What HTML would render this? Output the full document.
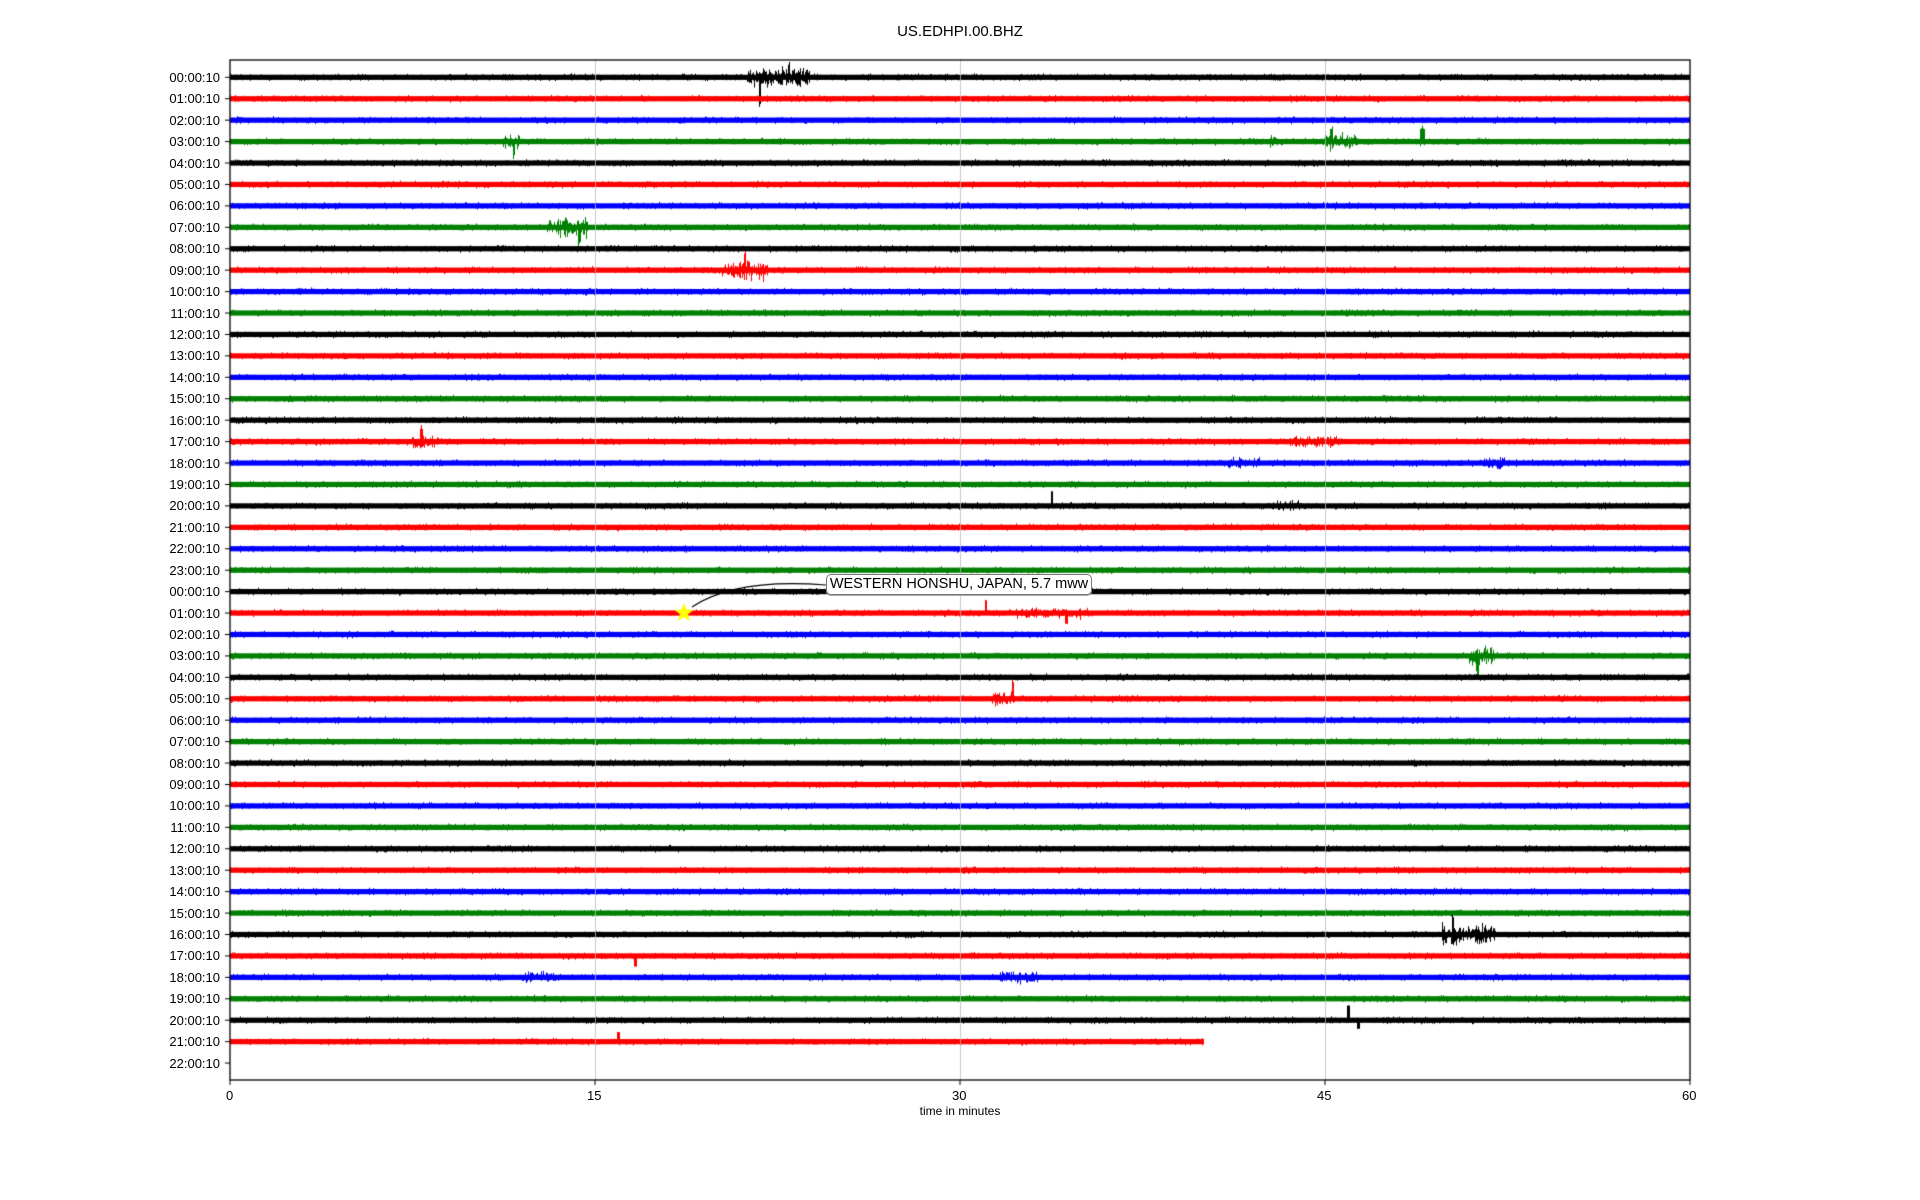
<!DOCTYPE html>
<html><head><meta charset="utf-8"><style>
body{margin:0;background:#fff;width:1920px;height:1200px;position:relative;overflow:hidden;font-family:"Liberation Sans",sans-serif;color:#000}
.t{position:absolute;font-size:13px;line-height:13px;white-space:nowrap}
.yl{right:1700px;text-align:right}
canvas{position:absolute;left:0;top:0}
</style></head><body>
<canvas id="c" width="1920" height="1200"></canvas>
<div class="t" style="left:0;width:1920px;text-align:center;top:24px;font-size:15px;line-height:15px">US.EDHPI.00.BHZ</div>
<div id="labels"></div>
<div class="t" style="left:226px;top:1089px">0</div>
<div class="t" style="left:587px;top:1089px">15</div>
<div class="t" style="left:952px;top:1089px">30</div>
<div class="t" style="left:1317px;top:1089px">45</div>
<div class="t" style="left:1682px;top:1089px">60</div>
<div class="t" style="left:0;width:1920px;text-align:center;top:1105px;font-size:12px;line-height:12px">time in minutes</div>
<div class="t" style="left:826px;top:574px;width:264px;height:19px;border:1.3px solid #777;border-radius:5px;background:#fff;font-size:14.5px;line-height:19px;text-align:center;box-shadow:0 1px 0 #aaa">WESTERN HONSHU, JAPAN, 5.7 mww</div>
<script>
var L=230,R=1690,T=60,B=1080,y0=77.3,dy=21.43;
var hrs=[];for(var i=0;i<24;i++)hrs.push(i);for(var i=0;i<23;i++)hrs.push(i);
var h='';
hrs.forEach(function(v,i){var y=y0+dy*i;h+='<div class="t yl" style="top:'+(y-6.5)+'px">'+(v<10?'0':'')+v+':00:10</div>';});
document.getElementById('labels').innerHTML=h;
var c=document.getElementById('c').getContext('2d');
var s=12345;function r(){s=(s*16807)%2147483647;return s/2147483647;}
function g(){return (r()+r()+r()-1.5)*1.2;}
var cols=['#000','#f00','#00f','#008000'];
var ev=[[0,21.2,23.8,4,0],[0,21.7,21.8,0,24],[0,22.9,23,0,-10],[3,11.2,11.9,3,0],[3,11.6,11.7,0,10],[3,42.7,43,2,0],[3,45,46.3,3,0],[3,45.2,45.3,0,-10],[3,48.9,49.1,2,-10],[7,13,14.7,4,0],[7,14.3,14.4,0,12],[9,20.2,22.1,4,0],[9,21.1,21.2,0,-14],[17,7.4,8.7,3,0],[17,7.8,7.9,0,-10],[17,43.5,45.8,1.5,0],[18,41,42.3,1.5,0],[18,51.5,52.5,1.5,0],[20,33.7,33.8,0,-12],[20,43,44,1.5,0],[25,31,31.1,0,-10],[25,32.3,35.3,1.5,0],[25,34.3,34.4,0,8],[27,50.9,52,4,0],[27,51.2,51.3,0,12],[29,31.3,32.3,3,0],[29,32.1,32.2,0,-14],[40,49.8,52,4,0],[40,50.2,50.3,0,-12],[41,16.6,16.7,0,8],[44,45.9,46,0,-12],[44,46.3,46.4,0,6],[45,15.9,16,0,-7],[42,31.5,33.2,2,0],[42,12,13.3,1.5,0]];
var ppm=(R-L)/60;
for(var i=0;i<46;i++){
 var y=y0+dy*i;c.fillStyle=cols[i%4];
 var xe=(i==45)?L+40*ppm:R;
 var my=[];ev.forEach(function(e){if(e[0]==i)my.push(e);});
 for(var x=L;x<xe;x++){
  var m=(x-L)/ppm,a=2.4,sp=0;
  my.forEach(function(e){if(m>=e[1]&&m<=e[2]){a+=e[3]*(0.5+r());sp+=e[4];}});
  var mn=-2.6,mx=2.6;
  for(var k=0;k<5;k++){var v=g()*a;if(v<mn)mn=v;if(v>mx)mx=v;}
  if(sp<0)mn+=sp; if(sp>0)mx+=sp;
  c.fillRect(x,y+mn,1,mx-mn);
 }
}
c.strokeStyle='#bbb';c.lineWidth=0.8;
[15,30,45].forEach(function(m){var x=Math.round(L+m*ppm)+0.5;c.beginPath();c.moveTo(x,T);c.lineTo(x,B);c.stroke();});
c.strokeStyle='#000';c.lineWidth=1.3;c.strokeRect(L,T,R-L,B-T);
c.lineWidth=1;
for(var i=0;i<47;i++){var y=y0+dy*i;c.beginPath();c.moveTo(L-5,y);c.lineTo(L,y);c.stroke();}
[0,15,30,45,60].forEach(function(m){var x=L+m*ppm;c.beginPath();c.moveTo(x,B);c.lineTo(x,B+5);c.stroke();});
c.strokeStyle='#000';c.lineWidth=1.2;c.beginPath();c.moveTo(692,607);c.quadraticCurveTo(735,578,826,585);c.stroke();
function star(cx,cy,ro,ri){c.beginPath();for(var k=0;k<10;k++){var rr=k%2?ri:ro,an=-Math.PI/2+k*Math.PI/5;c.lineTo(cx+rr*Math.cos(an),cy+rr*Math.sin(an));}c.closePath();c.fillStyle='#ff0';c.fill();}
star(684,613,10,4.2);
</script>
</body></html>
